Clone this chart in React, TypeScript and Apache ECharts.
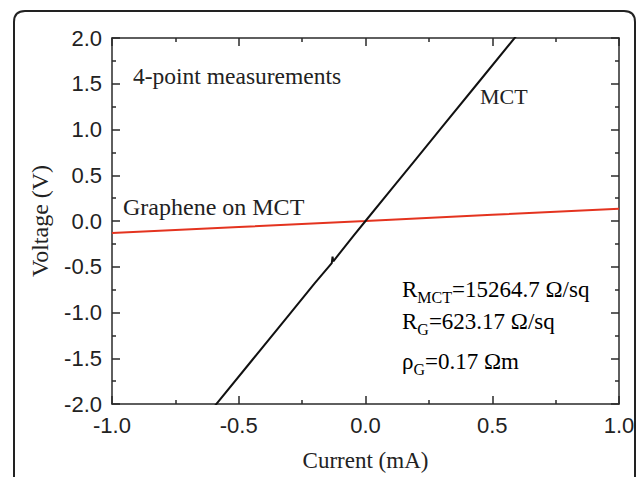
import React, { useEffect, useRef } from "react";
import * as echarts from "echarts";

const xTicks = [-1.0, -0.5, 0.0, 0.5, 1.0];
const yTicks = [-2.0, -1.5, -1.0, -0.5, 0.0, 0.5, 1.0, 1.5, 2.0];

// MCT: current (mA), voltage (V)
const mctCurrent = [-0.6, -0.45, -0.3, -0.2, -0.133, -0.13, -0.127, -0.05, 0.0, 0.1, 0.2, 0.3, 0.45, 0.6];
const mctVoltage = [-2.04, -1.53, -1.02, -0.68, -0.46, -0.39, -0.44, -0.17, 0.0, 0.34, 0.68, 1.02, 1.53, 2.04];

// Graphene on MCT
const grCurrent = [-1.0, -0.5, 0.0, 0.5, 1.0];
const grVoltage = [-0.13, -0.065, 0.0, 0.068, 0.135];

const SERIF = "'Liberation Serif', 'Times New Roman', serif";
const SANS = "'Liberation Sans', Arial, sans-serif";

const FRAME_PATH = "M1 476 L1 12 Q1 1 12 1 L611 1 Q622 1 622 12 L622 476";
echarts.graphic.registerShape("frame", (echarts.graphic as any).extendPath(FRAME_PATH, {}));

export default function App() {
  const ref = useRef<HTMLDivElement>(null);
  useEffect(() => {
    document.body.style.margin = "0";
    const chart = echarts.init(ref.current!, undefined, { renderer: "svg" });
    const axisCommon = {
      type: "value" as const,
      axisLine: { show: true, onZero: false, lineStyle: { color: "#2a2a2a", width: 1.5 } },
      axisTick: { show: true, inside: true, length: 8, lineStyle: { color: "#2a2a2a", width: 1.5 } },
      minorTick: { show: true, splitNumber: 2, length: 4, lineStyle: { color: "#2a2a2a", width: 1.5 } },
      splitLine: { show: false },
    };
    const richStyles = {
      b: { fontFamily: SERIF, fontSize: 23, color: "#222", verticalAlign: "top", lineHeight: 25 },
      s: { fontFamily: SERIF, fontSize: 16, color: "#222", verticalAlign: "top", padding: [11, 0, 0, 0] },
    };
    chart.setOption({
      animation: false,
      backgroundColor: "#ffffff",
      grid: { left: 112, top: 38, right: 22, bottom: 67, containLabel: false },
      xAxis: [
        {
          ...axisCommon,
          position: "bottom",
          min: -1,
          max: 1,
          interval: 0.5,
          name: "Current (mA)",
          nameLocation: "middle",
          nameGap: 45,
          nameTextStyle: { fontFamily: SERIF, fontSize: 23, color: "#222" },
          axisLabel: {
            margin: 10,
            fontFamily: SANS,
            fontSize: 22,
            color: "#222",
            formatter: (v: number) => v.toFixed(1),
          },
        },
        {
          ...axisCommon,
          position: "top",
          min: -1,
          max: 1,
          interval: 0.5,
          axisLabel: { show: false },
        },
      ],
      yAxis: [
        {
          ...axisCommon,
          position: "left",
          min: -2,
          max: 2,
          interval: 0.5,
          name: "Voltage (V)",
          nameLocation: "middle",
          nameGap: 60,
          nameTextStyle: { fontFamily: SERIF, fontSize: 24, color: "#222" },
          axisLabel: {
            margin: 10,
            fontFamily: SANS,
            fontSize: 22,
            color: "#222",
            formatter: (v: number) => v.toFixed(1),
          },
        },
        {
          ...axisCommon,
          position: "right",
          min: -2,
          max: 2,
          interval: 0.5,
          axisLabel: { show: false },
        },
      ],
      series: [
        {
          type: "line",
          name: "Graphene on MCT",
          data: grCurrent.map((c, i) => [c, grVoltage[i]]),
          showSymbol: false,
          lineStyle: { color: "#e4331f", width: 2 },
          clip: true,
        },
        {
          type: "line",
          name: "MCT",
          data: mctCurrent.map((c, i) => [c, mctVoltage[i]]),
          showSymbol: false,
          lineStyle: { color: "#111111", width: 2 },
          clip: true,
        },
      ],
      graphic: [
        {
          type: "frame",
          x: 13,
          y: 10,
          silent: true,
          style: { fill: "none", stroke: "#222", lineWidth: 2 },
        },
        {
          type: "text",
          x: 133,
          y: 76,
          style: { text: "4-point measurements", font: `23.5px ${SERIF}`, fill: "#222", verticalAlign: "middle" },
        },
        {
          type: "text",
          x: 123,
          y: 207,
          style: { text: "Graphene on MCT", font: `24px ${SERIF}`, fill: "#222", verticalAlign: "middle" },
        },
        {
          type: "text",
          x: 480,
          y: 96,
          style: { text: "MCT", font: `22px ${SERIF}`, fill: "#222", verticalAlign: "middle" },
        },
        {
          type: "text",
          x: 402,
          y: 278,
          style: { text: "{b|R}{s|MCT}{b|=15264.7 Ω/sq}", verticalAlign: "top", rich: richStyles },
        },
        {
          type: "text",
          x: 402,
          y: 310,
          style: { text: "{b|R}{s|G}{b|=623.17 Ω/sq}", verticalAlign: "top", rich: richStyles },
        },
        {
          type: "text",
          x: 402,
          y: 350,
          style: { text: "{b|ρ}{s|G}{b|=0.17 Ωm}", verticalAlign: "top", rich: richStyles },
        },
      ],
    });
    return () => chart.dispose();
  }, []);
  return <div ref={ref} style={{ width: 641, height: 477, background: "#fff" }} />;
}
